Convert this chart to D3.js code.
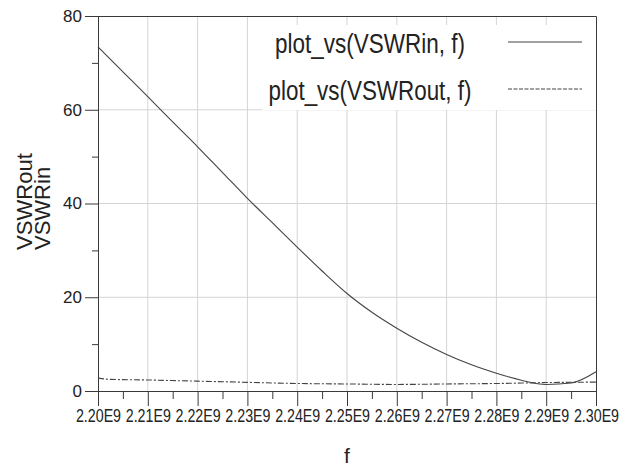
<!DOCTYPE html>
<html>
<head>
<meta charset="utf-8">
<script src="https://cdn.jsdelivr.net/npm/d3@7.9.0/dist/d3.min.js"></script>
<style>
  html, body { margin: 0; padding: 0; background: #fff; }
  svg { display: block; font-family: "Liberation Sans", Arial, sans-serif; }
</style>
</head>
<body>
<div id="chart"></div>
<script>
// frequency points (Hz)
const freqIn = [2.20e9, 2.205e9, 2.21e9, 2.215e9, 2.22e9, 2.225e9, 2.23e9, 2.235e9, 2.24e9, 2.245e9,
  2.25e9, 2.255e9, 2.26e9, 2.265e9, 2.27e9, 2.275e9, 2.28e9, 2.285e9, 2.29e9, 2.295e9, 2.30e9];
const vswrIn = [73.4, 68.1, 62.8, 57.4, 52.1, 46.6, 41.1, 35.9, 30.7, 25.6,
  20.8, 16.8, 13.4, 10.4, 7.8, 5.6, 3.8, 2.3, 1.4, 1.7, 4.1];

const freqOut = [2.20e9, 2.202e9, 2.21e9, 2.22e9, 2.23e9, 2.24e9, 2.25e9, 2.26e9, 2.27e9, 2.28e9, 2.29e9, 2.30e9];
const vswrOut = [2.8, 2.5, 2.35, 2.1, 1.85, 1.6, 1.5, 1.4, 1.5, 1.6, 1.8, 1.9];

const xTicks = [2.20e9, 2.21e9, 2.22e9, 2.23e9, 2.24e9, 2.25e9, 2.26e9, 2.27e9, 2.28e9, 2.29e9, 2.30e9];
const yTicks = [0, 20, 40, 60, 80];
const legendLabels = ['plot_vs(VSWRin, f)', 'plot_vs(VSWRout, f)'];

const width = 632, height = 468;
const margin = { top: 16, right: 36, bottom: 77, left: 98 };

const svg = d3.select('#chart').append('svg')
  .attr('width', width)
  .attr('height', height);

const xScale = d3.scaleLinear()
  .domain([2.20e9, 2.30e9])
  .range([margin.left, width - margin.right]);
const yScale = d3.scaleLinear()
  .domain([0, 80])
  .range([height - margin.bottom, margin.top]);

const axisColor = '#3a3a3a';
const gridColor = '#d4d4d4';

// grid
const grid = svg.append('g');
grid.selectAll('line.gx')
  .data(xTicks.slice(1, -1))
  .join('line')
  .attr('x1', d => xScale(d)).attr('x2', d => xScale(d))
  .attr('y1', yScale(80)).attr('y2', yScale(0))
  .attr('stroke', gridColor);
grid.selectAll('line.gy')
  .data(yTicks.slice(1, -1))
  .join('line')
  .attr('x1', xScale.range()[0]).attr('x2', xScale.range()[1])
  .attr('y1', d => yScale(d)).attr('y2', d => yScale(d))
  .attr('stroke', gridColor);

// frame (top and right)
svg.append('path')
  .attr('d', `M${xScale.range()[0]},${yScale(80) + 0.5}H${xScale.range()[1] + 0.5}V${yScale(0)}`)
  .attr('fill', 'none')
  .attr('stroke', axisColor);

// legend background
svg.append('rect')
  .attr('x', 262).attr('y', 25)
  .attr('width', xScale.range()[1] - 262).attr('height', 85)
  .attr('fill', '#fff');

// lines
const lineIn = d3.line()
  .x((d, i) => xScale(freqIn[i]))
  .y(d => yScale(d))
  .curve(d3.curveMonotoneX);
const lineOut = d3.line()
  .x((d, i) => xScale(freqOut[i]))
  .y(d => yScale(d))
  .curve(d3.curveMonotoneX);

svg.append('path')
  .attr('d', lineOut(vswrOut))
  .attr('fill', 'none')
  .attr('stroke', '#444')
  .attr('stroke-width', 1.1)
  .attr('stroke-dasharray', '6,2,2,2');

svg.append('path')
  .attr('d', lineIn(vswrIn))
  .attr('fill', 'none')
  .attr('stroke', '#444')
  .attr('stroke-width', 1.1);

// axes
const yAxis = svg.append('g')
  .attr('transform', `translate(${margin.left},0)`)
  .call(d3.axisLeft(yScale).tickValues(yTicks).tickSize(13).tickPadding(3).tickSizeOuter(0));
svg.append('g')
  .attr('transform', `translate(${margin.left},0)`)
  .call(d3.axisLeft(yScale).tickValues([10, 30, 50, 70]).tickSize(6).tickFormat('').tickSizeOuter(0))
  .call(g => g.select('.domain').remove());

const xAxis = svg.append('g')
  .attr('transform', `translate(0,${yScale(0)})`)
  .call(d3.axisBottom(xScale).tickValues(xTicks).tickSize(15).tickPadding(3).tickSizeOuter(0)
    .tickFormat(d => (d / 1e9).toFixed(2) + 'E9'));
svg.append('g')
  .attr('transform', `translate(0,${yScale(0)})`)
  .call(d3.axisBottom(xScale).tickValues(xTicks.slice(0, -1).map(d => d + 0.005e9)).tickSize(8).tickFormat('').tickSizeOuter(0))
  .call(g => g.select('.domain').remove());

svg.selectAll('.domain, .tick line').attr('stroke', axisColor);
yAxis.selectAll('text')
  .attr('font-size', 17).attr('fill', '#222');
// condensed tick labels, squeezed horizontally like the original
xAxis.selectAll('text')
  .attr('font-size', 18).attr('fill', '#222')
  .attr('transform', 'scale(0.79,1)');

// legend
const legend = svg.append('g');
legendLabels.forEach((label, i) => {
  const y = 53 + i * 47;
  legend.append('text')
    .attr('x', 370).attr('y', y)
    .attr('text-anchor', 'middle')
    .attr('font-size', 27).attr('fill', '#222')
    .attr('textLength', i === 0 ? 190 : 203).attr('lengthAdjust', 'spacingAndGlyphs')
    .text(label);
  legend.append('line')
    .attr('x1', 508).attr('x2', 582)
    .attr('y1', y - 11).attr('y2', y - 11)
    .attr('stroke', '#444')
    .attr('stroke-width', 1.1)
    .attr('stroke-dasharray', i === 0 ? null : '4,1.5');
});

// axis titles
svg.append('text')
  .attr('transform', 'translate(32,250) rotate(-90)')
  .attr('font-size', 22).attr('fill', '#222')
  .attr('textLength', 97).attr('lengthAdjust', 'spacingAndGlyphs')
  .text('VSWRout');
svg.append('text')
  .attr('transform', 'translate(50,250) rotate(-90)')
  .attr('font-size', 22).attr('fill', '#222')
  .text('VSWRin');
svg.append('text')
  .attr('x', xScale(2.25e9)).attr('y', 463)
  .attr('text-anchor', 'middle')
  .attr('font-size', 21).attr('fill', '#222')
  .text('f');
</script>
</body>
</html>
